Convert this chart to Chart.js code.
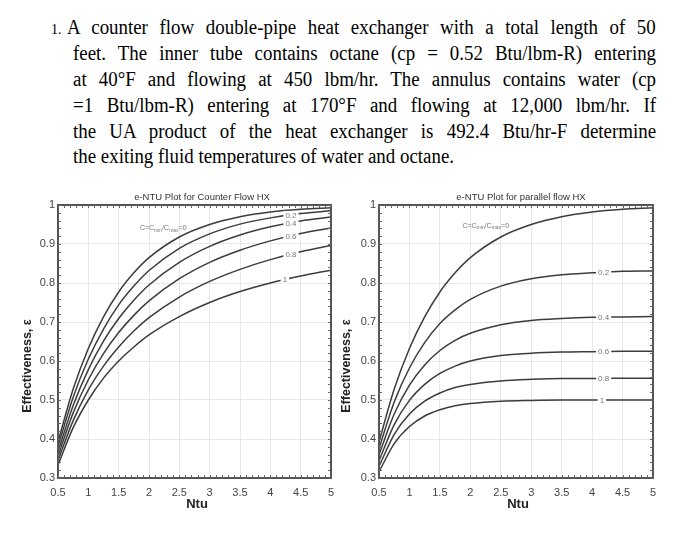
<!DOCTYPE html>
<html>
<head>
<meta charset="utf-8">
<script src="https://cdn.jsdelivr.net/npm/chart.js@4.4.1/dist/chart.umd.min.js"></script>
<style>
  html, body { margin: 0; padding: 0; background: #fff; }
  body { width: 700px; height: 549px; position: relative; overflow: hidden; }
  .ln { position: absolute; font-family: "Liberation Serif", "Times New Roman", serif; font-size: 20px; line-height: 26px; color: #000; white-space: nowrap; transform: scaleX(0.945); transform-origin: 0 0; }
  .j { text-align: justify; text-align-last: justify; white-space: normal; }
  .num { position: absolute; font-family: "Liberation Serif", serif; font-size: 14px; line-height: 26px; color: #000; }
  canvas { position: absolute; }
</style>
</head>
<body>
<div class="num" style="left:51px; top:17px;">1.</div>
<div class="ln j" style="left:67px; top:14px; width:623px;">A counter flow double-pipe heat exchanger with a total length of 50</div>
<div class="ln j" style="left:73px; top:40px; width:617px;">feet. The inner tube contains octane (cp = 0.52 Btu/lbm-R) entering</div>
<div class="ln j" style="left:73px; top:66px; width:617px;">at 40°F and flowing at 450 lbm/hr. The annulus contains water (cp</div>
<div class="ln j" style="left:73px; top:92px; width:617px;">=1 Btu/lbm-R) entering at 170°F and flowing at 12,000 lbm/hr. If</div>
<div class="ln j" style="left:73px; top:118px; width:617px;">the UA product of the heat exchanger is 492.4 Btu/hr-F determine</div>
<div class="ln" style="left:73px; top:143px;">the exiting fluid temperatures of water and octane.</div>

<canvas id="c1" width="345" height="335" style="left:0px; top:185px; width:345px; height:335px;"></canvas>
<canvas id="c2" width="360" height="335" style="left:340px; top:185px; width:360px; height:335px;"></canvas>

<script>
// ---- data ----
const ntu = [0.5, 0.75, 1, 1.25, 1.5, 1.75, 2, 2.5, 3, 3.5, 4, 4.5, 5];
const curveLabels = ['0', '0.2', '0.4', '0.6', '0.8', '1'];

// counter flow effectiveness
const cf0  = [0.393, 0.528, 0.632, 0.713, 0.777, 0.826, 0.865, 0.918, 0.950, 0.970, 0.982, 0.989, 0.993];
const cf02 = [0.381, 0.507, 0.605, 0.682, 0.744, 0.792, 0.832, 0.889, 0.926, 0.951, 0.967, 0.978, 0.985];
const cf04 = [0.368, 0.486, 0.578, 0.651, 0.709, 0.756, 0.795, 0.853, 0.894, 0.923, 0.944, 0.959, 0.969];
const cf06 = [0.356, 0.467, 0.552, 0.619, 0.673, 0.717, 0.754, 0.811, 0.853, 0.884, 0.908, 0.927, 0.941];
const cf08 = [0.345, 0.447, 0.526, 0.587, 0.636, 0.677, 0.711, 0.764, 0.804, 0.835, 0.860, 0.880, 0.896];
const cf1  = [0.333, 0.429, 0.500, 0.556, 0.600, 0.636, 0.667, 0.714, 0.750, 0.778, 0.800, 0.818, 0.833];

// parallel flow effectiveness
const pf0  = [0.393, 0.528, 0.632, 0.713, 0.777, 0.826, 0.865, 0.918, 0.950, 0.970, 0.982, 0.989, 0.993];
const pf02 = [0.376, 0.495, 0.582, 0.647, 0.696, 0.731, 0.758, 0.792, 0.811, 0.821, 0.826, 0.830, 0.831];
const pf04 = [0.360, 0.464, 0.538, 0.590, 0.627, 0.653, 0.671, 0.693, 0.704, 0.709, 0.712, 0.713, 0.714];
const pf06 = [0.344, 0.437, 0.499, 0.540, 0.568, 0.587, 0.600, 0.614, 0.620, 0.623, 0.624, 0.625, 0.625];
const pf08 = [0.330, 0.412, 0.464, 0.497, 0.518, 0.532, 0.540, 0.549, 0.553, 0.555, 0.555, 0.556, 0.556];
const pf1  = [0.316, 0.388, 0.432, 0.459, 0.475, 0.485, 0.491, 0.497, 0.499, 0.500, 0.500, 0.500, 0.500];

const xTicks = [0.5, 1, 1.5, 2, 2.5, 3, 3.5, 4, 4.5, 5];
const yTicks = [0.3, 0.4, 0.5, 0.6, 0.7, 0.8, 0.9, 1];

// ---- helpers ----
const SANS = '"Liberation Sans", Arial, sans-serif';

function interpAt(arr, x) {
  for (let i = 0; i < ntu.length - 1; i++) {
    if (x >= ntu[i] && x <= ntu[i + 1]) {
      const t = (x - ntu[i]) / (ntu[i + 1] - ntu[i]);
      return arr[i] + t * (arr[i + 1] - arr[i]);
    }
  }
  return arr[arr.length - 1];
}

function makeDatasets(series) {
  return series.map((arr, i) => ({
    label: 'C=' + curveLabels[i],
    data: ntu.map((x, k) => ({ x: x, y: arr[k] })),
    borderColor: '#3c3c3c',
    borderWidth: 1.5,
    pointRadius: 0,
    fill: false,
    cubicInterpolationMode: 'monotone'
  }));
}

function decorPlugin(cfg) {
  return {
    id: 'decor',
    afterDatasetsDraw(chart) {
      const ctx = chart.ctx;
      const xs = chart.scales.x, ys = chart.scales.y;
      const a = chart.chartArea;
      ctx.save();
      // curve labels
      ctx.font = '8px ' + SANS;
      ctx.textBaseline = 'middle';
      ctx.textAlign = 'center';
      cfg.labels.forEach(l => {
        const px = xs.getPixelForValue(l.x);
        const py = ys.getPixelForValue(interpAt(l.arr, l.x));
        const w = ctx.measureText(l.text).width + 4;
        ctx.fillStyle = '#fff';
        ctx.fillRect(px - w / 2, py - 4, w, 8);
        ctx.fillStyle = '#777';
        ctx.fillText(l.text, px, py + 0.5);
      });
      // C=Cmin/Cmax=0 label
      let px = xs.getPixelForValue(cfg.cLabel.x);
      const py = ys.getPixelForValue(cfg.cLabel.y);
      ctx.textAlign = 'left';
      ctx.fillStyle = '#777';
      const parts = [['C=C', 0], ['min', 1], ['/C', 0], ['max', 1], ['=0', 0]];
      parts.forEach(p => {
        ctx.font = (p[1] ? '5px ' : '7px ') + SANS;
        ctx.fillText(p[0], px, py + (p[1] ? 2 : 0));
        px += ctx.measureText(p[0]).width;
      });
      // frame
      ctx.strokeStyle = '#555';
      ctx.lineWidth = 2;
      ctx.strokeRect(a.left, a.top, a.right - a.left, a.bottom - a.top);
      // minor ticks
      ctx.lineWidth = 1;
      ctx.strokeStyle = '#666';
      ctx.beginPath();
      for (let v = 5; v <= 50; v++) {
        const x = Math.round(xs.getPixelForValue(v / 10)) + 0.5;
        ctx.moveTo(x, a.bottom); ctx.lineTo(x, a.bottom - 3);
        ctx.moveTo(x, a.top); ctx.lineTo(x, a.top + 3);
      }
      for (let v = 15; v <= 50; v++) {
        const y = Math.round(ys.getPixelForValue(v / 50)) + 0.5;
        ctx.moveTo(a.left, y); ctx.lineTo(a.left + 3, y);
        ctx.moveTo(a.right, y); ctx.lineTo(a.right - 3, y);
      }
      ctx.stroke();
      // titles
      ctx.fillStyle = '#333';
      ctx.textAlign = 'center';
      ctx.textBaseline = 'middle';
      ctx.font = '9.5px ' + SANS;
      ctx.fillText(cfg.title, cfg.titleX, 12);
      ctx.fillStyle = '#222';
      ctx.font = 'bold 13px ' + SANS;
      ctx.fillText('Ntu', cfg.ntuX, 319);
      ctx.save();
      ctx.translate(cfg.yTitleX, 181);
      ctx.rotate(-Math.PI / 2);
      ctx.font = 'bold 12.5px ' + SANS;
      ctx.fillText('Effectiveness, \u03b5', 0, 0);
      ctx.restore();
      ctx.restore();
    }
  };
}

function makeChart(id, series, axisW, padR, cfg) {
  return new Chart(document.getElementById(id), {
    type: 'line',
    data: { datasets: makeDatasets(series) },
    options: {
      responsive: false,
      animation: false,
      devicePixelRatio: 1,
      layout: { padding: { left: 0, right: padR, top: 20, bottom: 0 } },
      plugins: { legend: { display: false }, tooltip: { enabled: false }, title: { display: false } },
      scales: {
        x: {
          type: 'linear', min: 0.5, max: 5,
          afterFit(s) { s.height = 42; },
          afterBuildTicks(s) { s.ticks = xTicks.map(v => ({ value: v })); },
          grid: { color: '#e8e8e8', lineWidth: 1, drawTicks: false },
          border: { display: false },
          ticks: { autoSkip: false, maxRotation: 0, padding: 8, color: '#444',
                   font: { family: SANS, size: 11 }, callback: v => String(v) }
        },
        y: {
          type: 'linear', min: 0.3, max: 1,
          afterFit(s) { s.width = axisW; },
          afterBuildTicks(s) { s.ticks = yTicks.map(v => ({ value: v })); },
          grid: { color: '#e8e8e8', lineWidth: 1, drawTicks: false },
          border: { display: false },
          ticks: { autoSkip: false, padding: 3, color: '#444',
                   font: { family: SANS, size: 11 }, callback: v => String(v) }
        }
      }
    },
    plugins: [decorPlugin(cfg)]
  });
}

makeChart('c1', [cf0, cf02, cf04, cf06, cf08, cf1], 58, 14, {
  title: 'e-NTU Plot for Counter Flow HX', titleX: 202, ntuX: 197, yTitleX: 28,
  cLabel: { x: 1.85, y: 0.94 },
  labels: [
    { text: '0.2', x: 4.34, arr: cf02 },
    { text: '0.4', x: 4.34, arr: cf04 },
    { text: '0.6', x: 4.34, arr: cf06 },
    { text: '0.8', x: 4.34, arr: cf08 },
    { text: '1', x: 4.24, arr: cf1 }
  ]
});

makeChart('c2', [pf0, pf02, pf04, pf06, pf08, pf1], 39, 47, {
  title: 'e-NTU Plot for parallel flow HX', titleX: 181, ntuX: 178, yTitleX: 7,
  cLabel: { x: 1.87, y: 0.947 },
  labels: [
    { text: '0.2', x: 4.19, arr: pf02 },
    { text: '0.4', x: 4.19, arr: pf04 },
    { text: '0.6', x: 4.19, arr: pf06 },
    { text: '0.8', x: 4.19, arr: pf08 },
    { text: '1', x: 4.16, arr: pf1 }
  ]
});
</script>
</body>
</html>
